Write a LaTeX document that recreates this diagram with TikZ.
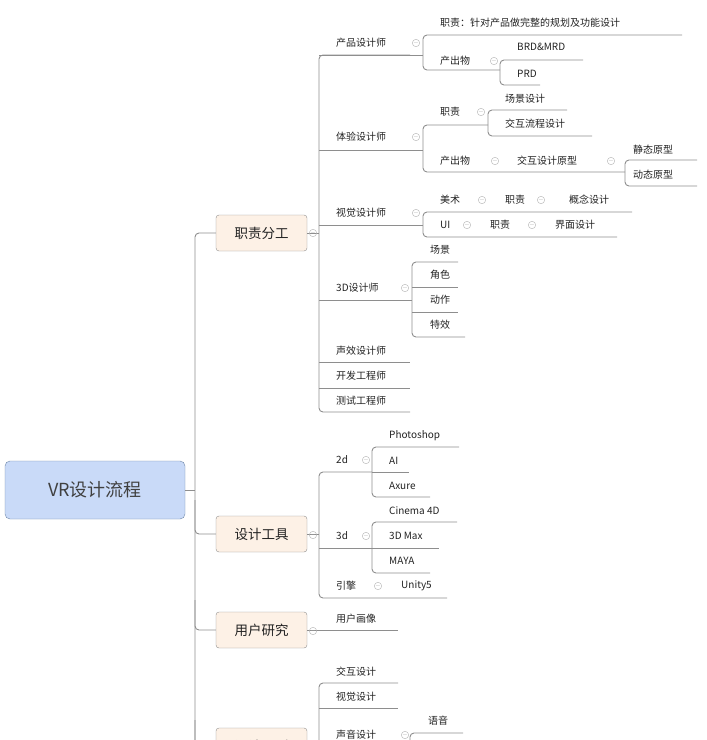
\documentclass[tikz,border=0pt]{standalone}
\usepackage{fontspec}
\setmainfont{Noto Sans CJK SC}
\usetikzlibrary{positioning}
\definecolor{linegray}{HTML}{8E8E8E}
\definecolor{txt}{HTML}{222222}
\definecolor{rootfill}{HTML}{C9DAF8}
\definecolor{rootline}{HTML}{6F87A8}
\definecolor{mainfill}{HTML}{FDF1E6}
\tikzset{
  topic/.style={anchor=west,inner sep=0pt,text=txt,font=\fontsize{10pt}{11pt}\selectfont},
  mainbox/.style={draw=linegray,fill=mainfill,rounded corners=3pt,minimum width=91pt,minimum height=36pt,font=\fontsize{13.5pt}{14pt}\selectfont,text=txt},
  rootbox/.style={draw=rootline,fill=rootfill,rounded corners=5pt,minimum width=180pt,minimum height=58pt,font=\fontsize{18pt}{19pt}\selectfont,text=black!75},
  fold/.style={circle,draw=gray!60,inner sep=0pt,minimum size=7pt,font=\fontsize{6pt}{6pt}\selectfont,text=gray!70},
  link/.style={draw=linegray,line width=0.9pt,rounded corners=4pt}
}
\begin{document}
\begin{tikzpicture}[x=1pt,y=-1pt]
\useasboundingbox (0,0) rectangle (707,740);
\begin{scope}
\clip (0,0) rectangle (707,740);
% root and main topics
\node[rootbox] (root) at (95,490) {VR设计流程};
\node[mainbox] (duty) at (261.5,233) {职责分工};
\node[mainbox] (tools) at (261.5,534) {设计工具};
\node[mainbox] (user) at (261.5,630) {用户研究};
\node[mainbox] (rule) at (261.5,746) {设计原则};

% main connectors
\draw[link] (root.east) -- (195,490);
\draw[link] (duty.west) -- (195,233) -- (195,760);
\draw[link] (195,500) -- (195,534) -- (tools.west);
\draw[link] (195,600) -- (195,630) -- (user.west);
\draw[link] (195,720) -- (195,746) -- (rule.west);

% ---- 职责分工
\draw[link] (duty.east) -- (319,233);
\draw[link] (410,55) -- (319,55) -- (319,412) -- (410,412);
\node[topic] (pd) at (336,43) {产品设计师};
\node[topic] (ux) at (336,137) {体验设计师};
\node[topic] (vd) at (336,213) {视觉设计师};
\node[topic] (d3) at (336,288) {3D设计师};
\node[topic] (sd) at (336,351) {声效设计师};
\node[topic] (dev) at (336,376) {开发工程师};
\node[topic] (qa) at (336,401) {测试工程师};
\draw[link] (319,150) -- (423,150);
\draw[link] (319,225) -- (423,225);
\draw[link] (319,300) -- (412,300);
\draw[link] (319,362) -- (410,362);
\draw[link] (319,388) -- (410,388);

% 产品设计师
\draw[link] (319,55) -- (423,55);
\draw[link] (682,35) -- (423,35) -- (423,70) -- (500,70);
\node[topic] (pdduty) at (440,23) {职责：针对产品做完整的规划及功能设计};
\node[topic] (pdout) at (440,61) {产出物};
\draw[link] (583,60) -- (500,60) -- (500,85) -- (540,85);
\node[topic] (brd) at (517,47) {BRD\&MRD};
\node[topic] (prd) at (517,74) {PRD};

% 体验设计师
\draw[link] (488,125) -- (423,125) -- (423,172) -- (625,172);
\node[topic] (uxduty) at (440,112) {职责};
\node[topic] (uxout) at (440,161) {产出物};
\draw[link] (567,110) -- (488,110) -- (488,136) -- (592,136);
\node[topic] (scene) at (505,99) {场景设计};
\node[topic] (flow) at (505,124) {交互流程设计};
\node[topic] (proto) at (517,161) {交互设计原型};
\draw[link] (697,160) -- (625,160) -- (625,186) -- (697,186);
\node[topic] (stat) at (633,150) {静态原型};
\node[topic] (dyn) at (633,175) {动态原型};

% 视觉设计师
\draw[link] (632,212) -- (423,212) -- (423,237) -- (617,237);
\node[topic] (art) at (440,200) {美术};
\node[topic] (artduty) at (505,200) {职责};
\node[topic] (concept) at (569,200) {概念设计};
\node[topic] (ui) at (440,225) {UI};
\node[topic] (uiduty) at (490,225) {职责};
\node[topic] (uidesign) at (555,225) {界面设计};

% 3D设计师
\draw[link] (458,262) -- (412,262) -- (412,337) -- (465,337);
\draw[link] (412,287) -- (458,287);
\draw[link] (412,312) -- (458,312);
\node[topic] (s3) at (430,250) {场景};
\node[topic] (r3) at (430,275) {角色};
\node[topic] (a3) at (430,300) {动作};
\node[topic] (e3) at (430,325) {特效};

% ---- 设计工具
\draw[link] (tools.east) -- (319,534);
\draw[link] (372,472) -- (319,472) -- (319,598) -- (447,598);
\draw[link] (319,548) -- (372,548);
\node[topic] (t2d) at (336,460) {2d};
\node[topic] (t3d) at (336,536) {3d};
\node[topic] (eng) at (336,586) {引擎};
\node[topic] (unity) at (401,586) {Unity5};
\draw[link] (459,447) -- (372,447) -- (372,497) -- (430,497);
\draw[link] (372,472) -- (409,472);
\node[topic] (ps) at (389,436) {Photoshop};
\node[topic] (ai) at (389,461) {AI};
\node[topic] (axure) at (389,486) {Axure};
\draw[link] (457,522) -- (372,522) -- (372,573) -- (430,573);
\draw[link] (372,548) -- (439,548);
\node[topic] (c4d) at (389,511) {Cinema 4D};
\node[topic] (max) at (389,536) {3D Max};
\node[topic] (maya) at (389,561) {MAYA};

% ---- 用户研究
\draw[link] (user.east) -- (398,630);
\node[topic] (persona) at (336,619) {用户画像};

% ---- 设计原则
\draw[link] (398,683) -- (319,683) -- (319,760);
\draw[link] (319,708) -- (398,708);
\draw[link] (319,748) -- (410,748);
\node[topic] (ixd) at (336,672) {交互设计};
\node[topic] (vis) at (336,697) {视觉设计};
\node[topic] (snd) at (336,735) {声音设计};
\draw[link] (463,733) -- (410,733) -- (410,760);
\node[topic] (voice) at (428,721) {语音};

% fold marks
\foreach \p in {(313,233),(416,43),(494,61),(416,137),(481,112),(495,161),(611,161),
  (416,213),(482,200),(541,200),(467,225),(532,225),(405,288),(313,535),(366,460),
  (366,536),(378,586),(313,631),(405,735)}
  \node[fold] at \p {$-$};
\end{scope}
\end{tikzpicture}
\end{document}
